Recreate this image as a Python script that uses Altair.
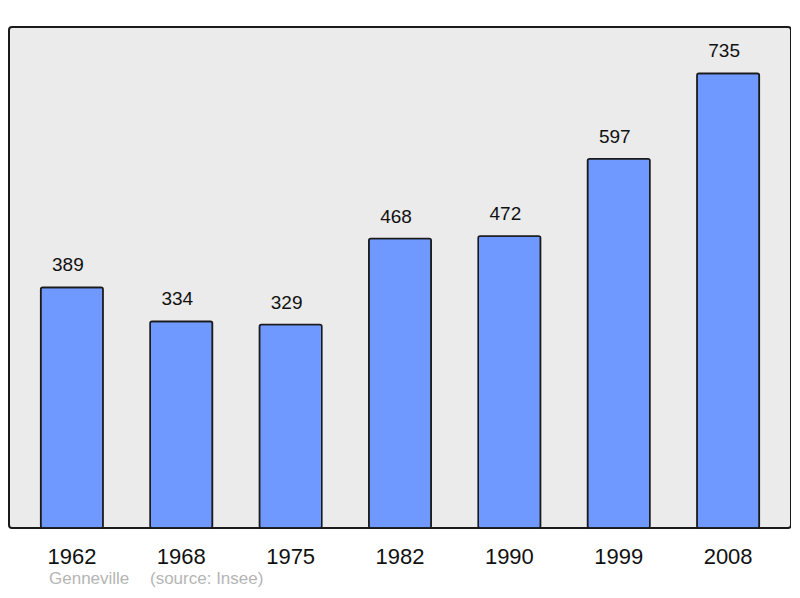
import altair as alt
import pandas as pd

years = ["1962", "1968", "1975", "1982", "1990", "1999", "2008"]
population = [389, 334, 329, 468, 472, 597, 735]
footer_place = "Genneville"
footer_source = "(source: Insee)"

df = pd.DataFrame({"year": years, "pop": population})

FONT = "Liberation Sans"

x = alt.X(
    "year:N",
    sort=years,
    scale=alt.Scale(paddingInner=0.43, paddingOuter=0.29),
    axis=alt.Axis(
        title=None, domain=False, ticks=False, tickSize=0, labelAngle=0,
        labelFontSize=22, labelFont=FONT, labelColor="#111111",
        labelBaseline="alphabetic", labelPadding=35,
    ),
)
y = alt.Y("pop:Q", scale=alt.Scale(domain=[0, 810], nice=False, zero=True), axis=None)

bars = alt.Chart(df).mark_bar(
    color="#7099ff", stroke="#1a1a1a", strokeWidth=1.6, cornerRadius=2
).encode(x=x, y=y)

labels = alt.Chart(df).mark_text(
    baseline="alphabetic", dy=-16, dx=-4, fontSize=19, font=FONT, color="#111111"
).encode(x=x, y=y, text="pop:Q")

footer1 = alt.Chart(pd.DataFrame({"t": [footer_place]})).mark_text(
    align="left", baseline="alphabetic", fontSize=17, font=FONT, color="#b5b5b5"
).encode(x=alt.value(40), y=alt.value(557), text="t:N")

footer2 = alt.Chart(pd.DataFrame({"t": [footer_source]})).mark_text(
    align="left", baseline="alphabetic", fontSize=17, font=FONT, color="#b5b5b5"
).encode(x=alt.value(141), y=alt.value(557), text="t:N")

chart = alt.layer(bars, labels, footer1, footer2).properties(
    width=782, height=501,
    autosize=alt.AutoSizeParams(type="none"),
    padding={"left": 1, "top": 19, "right": 0, "bottom": 62},
    background="white",
).configure_view(
    fill="#ebebeb", stroke="#1a1a1a", strokeWidth=2, cornerRadius=3
)

chart.save("out.html", embed_options={"renderer": "svg", "actions": False})
